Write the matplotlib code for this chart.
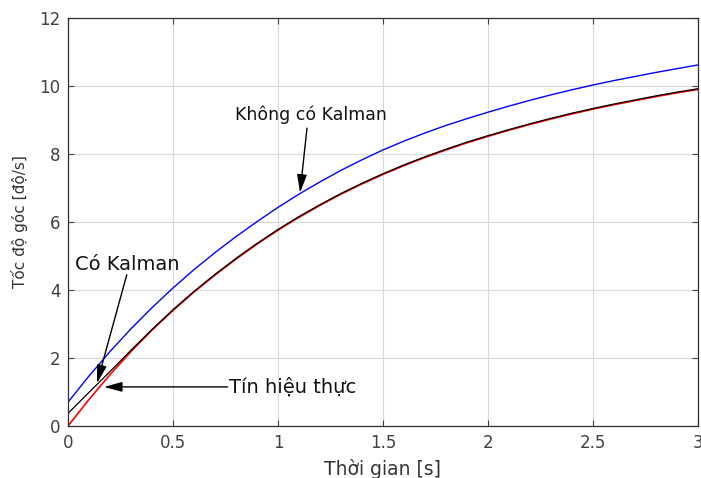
import matplotlib
matplotlib.use("Agg")
import matplotlib.pyplot as plt

plt.rcParams['font.family'] = ['DejaVu Sans']

# Time samples [s]
t = [0.0, 0.1, 0.2, 0.3, 0.4, 0.5, 0.6, 0.7, 0.8, 0.9, 1.0,
     1.1, 1.2, 1.3, 1.4, 1.5, 1.6, 1.7, 1.8, 1.9, 2.0,
     2.1, 2.2, 2.3, 2.4, 2.5, 2.6, 2.7, 2.8, 2.9, 3.0]

# Real signal (red)
real_signal = [0.00, 0.78, 1.51, 2.19, 2.82, 3.40, 3.94, 4.44, 4.91, 5.35, 5.76,
               6.14, 6.49, 6.82, 7.12, 7.40, 7.66, 7.90, 8.12, 8.33, 8.52,
               8.70, 8.87, 9.03, 9.18, 9.32, 9.45, 9.57, 9.69, 9.80, 9.90]

# Without Kalman (blue)
no_kalman = [0.70, 1.47, 2.19, 2.86, 3.48, 4.06, 4.60, 5.10, 5.57, 6.01, 6.43,
             6.82, 7.18, 7.52, 7.83, 8.12, 8.38, 8.62, 8.84, 9.04, 9.23,
             9.41, 9.58, 9.74, 9.89, 10.03, 10.16, 10.28, 10.40, 10.51, 10.62]

# With Kalman (black)
with_kalman = [0.37, 0.99, 1.60, 2.23, 2.84, 3.42, 3.96, 4.46, 4.93, 5.37, 5.78,
               6.16, 6.51, 6.84, 7.14, 7.42, 7.68, 7.92, 8.14, 8.35, 8.54,
               8.72, 8.89, 9.05, 9.20, 9.34, 9.47, 9.59, 9.71, 9.82, 9.92]

x_ticks = [0, 0.5, 1, 1.5, 2, 2.5, 3]
x_tick_labels = ['0', '0.5', '1', '1.5', '2', '2.5', '3']
y_ticks = [0, 2, 4, 6, 8, 10, 12]
y_tick_labels = ['0', '2', '4', '6', '8', '10', '12']

fig = plt.figure(figsize=(7.01, 4.78), dpi=100)
ax = fig.add_axes([0.097, 0.1088, 0.8987, 0.8535])

ax.plot(t, no_kalman, color='#0000ff', lw=1.0)
ax.plot(t, real_signal, color='#ff0000', lw=1.2)
ax.plot(t, with_kalman, color='#000000', lw=0.9)

ax.set_xlim(0, 3)
ax.set_ylim(0, 12)
ax.set_xticks(x_ticks)
ax.set_xticklabels(x_tick_labels)
ax.set_yticks(y_ticks)
ax.set_yticklabels(y_tick_labels)

tick_color = '#404040'
ax.tick_params(direction='in', top=True, right=True, length=4, width=0.8,
               colors=tick_color, labelsize=12, pad=5.5)
for sp in ax.spines.values():
    sp.set_color('#303030')
    sp.set_linewidth(0.9)
ax.grid(True, color='#d9d9d9', lw=0.8)
ax.set_axisbelow(True)

ax.set_xlabel('Thời gian [s]', fontsize=13.5, color='#333333', labelpad=5)
ax.set_ylabel('Tốc độ góc [độ/s]', fontsize=11, color='#333333', labelpad=8)

arrow = dict(arrowstyle='-|>,head_length=1.0,head_width=0.27', color='k',
             lw=1.0, shrinkA=0, shrinkB=0, mutation_scale=11)

ax.text(1.157, 9.15, 'Không có Kalman', fontsize=12.5, color='#111111',
        ha='center', va='center')
ax.annotate('', xy=(1.105, 6.86), xytext=(1.138, 8.76), arrowprops=arrow)

ax.text(0.033, 4.76, 'Có Kalman', fontsize=14, color='#111111',
        ha='left', va='center')
ax.annotate('', xy=(0.138, 1.26), xytext=(0.28, 4.45), arrowprops=arrow)

ax.text(0.767, 1.15, 'Tín hiệu thực', fontsize=14, color='#111111',
        ha='left', va='center')
ax.annotate('', xy=(0.171, 1.15), xytext=(0.76, 1.15), arrowprops=arrow)

fig.savefig('out.png', dpi=100)
